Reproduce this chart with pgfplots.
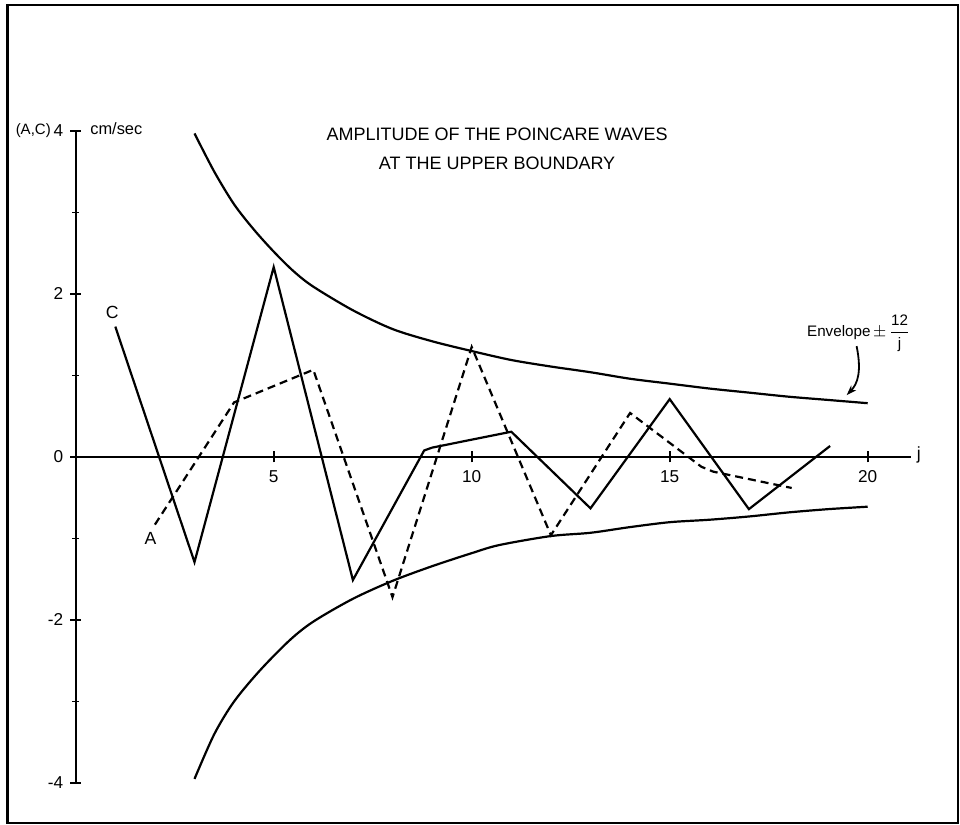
\documentclass[border=0pt]{standalone}
\usepackage{fontspec}
\setmainfont{Liberation Sans}
\usepackage{pgfplots}
\pgfplotsset{compat=1.18}
\usetikzlibrary{arrows.meta}
\begin{document}
\begin{tikzpicture}[x=1pt,y=1pt]
\draw[line width=1.2pt] (3.75,1) rectangle (479,410);
\begin{axis}[
 at={(37.85pt,21pt)}, anchor=south west,
 x=19.8pt, y=40.75pt,
 xmin=0, xmax=21.1, ymin=-4, ymax=4,
 axis lines=middle, axis line style={-, line width=1.05pt},
 hide obscured x ticks=false, hide obscured y ticks=false,
 clip=false,
 xtick={5,10,15,20}, xticklabels={5,10,15,20},
 ytick={-4,-2,0,2,4}, yticklabels={-4,-2,0,2,4},
 minor ytick={-3,-1,1,3},
 tick align=center,
 major tick length=5.5pt, minor tick length=3.5pt,
 every tick/.style={black, line width=0.9pt},
 ticklabel style={font=\fontsize{8.6}{9}\selectfont},
 xticklabel style={yshift=-0.5pt},
]
% envelope (upper and lower)
\addplot[line width=1.1pt, smooth, tension=0.5] coordinates {
(3,3.97) (3.5,3.5) (4,3.1) (4.5,2.79) (5,2.52) (5.5,2.28) (6,2.09) (7,1.80) (8,1.57) (9,1.42) (10,1.30) (11,1.19) (12,1.11) (13,1.04) (14,0.96) (15,0.90) (16,0.84) (17,0.79) (18,0.74) (19,0.70) (20,0.66)};
\addplot[line width=1.1pt, smooth, tension=0.5] coordinates {
(3,-3.95) (3.5,-3.4) (4,-3.0) (4.65,-2.62) (5.4,-2.25) (6,-2.02) (7,-1.74) (8,-1.52) (9,-1.34) (10,-1.18) (10.7,-1.08) (12,-0.97) (13,-0.93) (14,-0.86) (15,-0.80) (16,-0.77) (17,-0.73) (18,-0.68) (19,-0.64) (20,-0.61)};
% C (solid)
\addplot[line width=1.1pt] coordinates {
(1,1.60) (3,-1.29) (5,2.33) (7,-1.51) (8.8,0.08) (9,0.115) (11,0.31) (13,-0.63) (15,0.71) (17,-0.64) (19.05,0.135)};
% A (dashed)
\addplot[line width=1.1pt, dash pattern=on 4pt off 2.5pt] coordinates {
(2,-0.83) (4,0.67) (6,1.07) (8,-1.72) (10,1.35) (12,-0.96) (14,0.54) (15.8,-0.12) (16.1,-0.18) (18.08,-0.38)};
% labels
\node[anchor=east, inner sep=0pt, font=\fontsize{7.5}{9}\selectfont] at (axis cs:-0.62,4.0) {(A,C)};
\node[anchor=west, inner sep=0pt, font=\fontsize{8.2}{9}\selectfont] at (axis cs:0.36,4.03) {cm/sec};
\node[font=\fontsize{8.8}{9}\selectfont] at (axis cs:0.92,1.77) {C};
\node[font=\fontsize{8.8}{9}\selectfont] at (axis cs:1.89,-1.0) {A};
\node[font=\fontsize{8.8}{9}\selectfont] at (axis cs:21.29,0.02) {j};
\node[align=center, font=\fontsize{9}{14.5}\selectfont] at (axis cs:10.64,3.785) {AMPLITUDE OF THE POINCARE WAVES\\AT THE UPPER BOUNDARY};
\node[anchor=west, inner sep=0pt, font=\fontsize{7.6}{9}\selectfont] at (axis cs:18.46,1.52) {Envelope\,$\pm$\,$\displaystyle\frac{\mbox{12}}{\mbox{j}}$};
\draw[line width=0.9pt, -{Stealth[length=5pt,width=3.5pt]}] (axis cs:19.72,1.36) .. controls (axis cs:19.85,1.05) and (axis cs:19.75,0.9) .. (axis cs:19.47,0.76);
\end{axis}
\pgfresetboundingbox
\path[use as bounding box] (0,0) rectangle (480,412.5);
\end{tikzpicture}
\end{document}
